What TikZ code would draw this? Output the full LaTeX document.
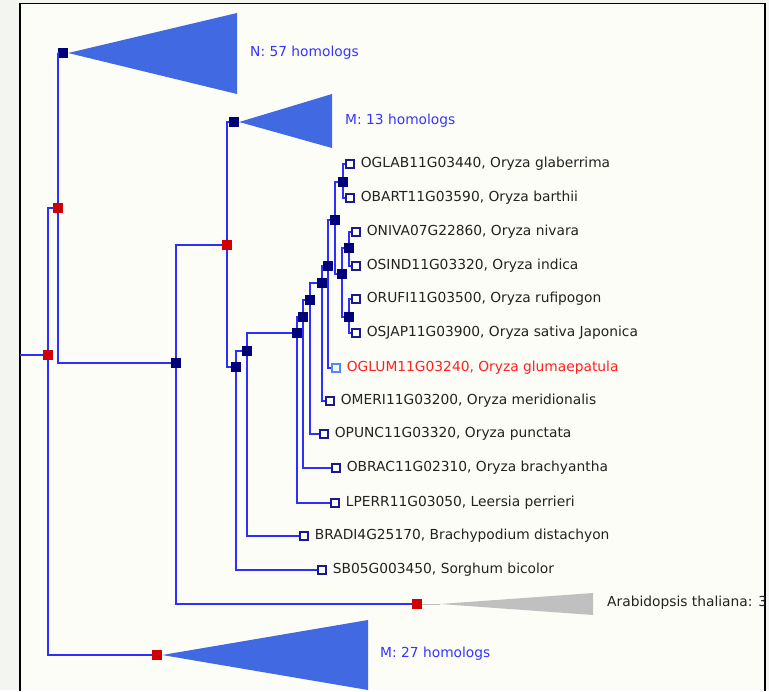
\documentclass[tikz,border=0pt]{standalone}
\usepackage{fontspec}
\setmainfont{DejaVu Sans}
\definecolor{outbg}{HTML}{F3F5F0}
\definecolor{inbg}{HTML}{FDFDF8}
\definecolor{navyc}{HTML}{000078}
\definecolor{redc}{HTML}{D00000}
\definecolor{linec}{HTML}{2E2EFF}
\definecolor{trib}{HTML}{4169E1}
\definecolor{trig}{HTML}{C0C0C0}
\definecolor{labb}{HTML}{3535FF}
\definecolor{textc}{HTML}{222222}
\definecolor{leafc}{HTML}{1A1A8C}
\definecolor{hilite}{HTML}{4A8CFF}
\definecolor{redtext}{HTML}{FF2020}
\begin{document}
\begin{tikzpicture}[x=1pt,y=-1pt,
  spec/.style={rectangle, fill=navyc, minimum size=10pt, inner sep=0pt},
  dupl/.style={rectangle, fill=redc, minimum size=10pt, inner sep=0pt},
  leafbox/.style={rectangle, draw=leafc, line width=1.3pt, fill=inbg, minimum size=8pt, inner sep=0pt},
  edge/.style={draw=linec, line width=1.6pt},
  lab/.style={anchor=west, font=\fontsize{13.8}{16}\selectfont, text=textc, inner sep=0pt, xshift=6pt},
  grplab/.style={anchor=west, font=\fontsize{13.8}{16}\selectfont, text=labb, inner sep=0pt}]
% background and frame
\fill[outbg] (0,0) rectangle (769,690);
\fill[inbg] (20,3.5) rectangle (765,690);
\draw[black, line width=1.6pt] (20,691) -- (20,3.5) -- (765,3.5) -- (765,691);
\useasboundingbox (0,0) rectangle (769,690);

% internal nodes
\node[dupl] (R0) at (48,355) {};
\node[dupl] (A) at (58,208) {};
\node[dupl] (B) at (157,655) {};
\node[spec] (N) at (63,53) {};
\node[spec] (C) at (176,363) {};
\node[dupl] (D) at (227,245) {};
\node[dupl] (AR) at (417,604) {};
\node[spec] (M13) at (234,122) {};
\node[spec] (E) at (236,367) {};
\node[spec] (F) at (247,351) {};
\node[spec] (G) at (297,333) {};
\node[spec] (P9) at (303,317) {};
\node[spec] (P8) at (310,300) {};
\node[spec] (P7) at (322,283) {};
\node[spec] (P6) at (328,266) {};
\node[spec] (P5) at (335,220) {};
\node[spec] (P1) at (343,182) {};
\node[spec] (P4) at (342,274) {};
\node[spec] (P2) at (349,248) {};
\node[spec] (P3) at (349,317) {};

% leaves
\node[leafbox] (SB) at (322,570) {};
\node[leafbox] (BRADI) at (304,536) {};
\node[leafbox] (LPERR) at (335,503) {};
\node[leafbox] (OBRAC) at (336,468) {};
\node[leafbox] (OPUNC) at (324,434) {};
\node[leafbox] (OMERI) at (330,401) {};
\node[leafbox, draw=hilite] (OGLUM) at (336,368) {};
\node[leafbox] (OGLAB) at (350,164) {};
\node[leafbox] (OBART) at (350,198) {};
\node[leafbox] (ONIVA) at (356,232) {};
\node[leafbox] (OSIND) at (356,266) {};
\node[leafbox] (ORUFI) at (356,299) {};
\node[leafbox] (OSJAP) at (356,333) {};

% edges
\coordinate (in) at (20,355);
\path[edge] (in) -- (R0);
\path[edge] (R0) |- (A);
\path[edge] (R0) |- (B);
\path[edge] (A) |- (N);
\path[edge] (A) |- (C);
\path[edge] (C) |- (D);
\path[edge] (C) |- (AR);
\path[edge] (D) |- (M13);
\path[edge] (D) |- (E);
\path[edge] (E) |- (F);
\path[edge] (E) |- (SB);
\path[edge] (F) |- (G);
\path[edge] (F) |- (BRADI);
\path[edge] (G) |- (P9);
\path[edge] (G) |- (LPERR);
\path[edge] (P9) |- (P8);
\path[edge] (P9) |- (OBRAC);
\path[edge] (P8) |- (P7);
\path[edge] (P8) |- (OPUNC);
\path[edge] (P7) |- (P6);
\path[edge] (P7) |- (OMERI);
\path[edge] (P6) |- (P5);
\path[edge] (P6) |- (OGLUM);
\path[edge] (P5) |- (P1);
\path[edge] (P5) |- (P4);
\path[edge] (P1) |- (OGLAB);
\path[edge] (P1) |- (OBART);
\path[edge] (P4) |- (P2);
\path[edge] (P4) |- (P3);
\path[edge] (P2) |- (ONIVA);
\path[edge] (P2) |- (OSIND);
\path[edge] (P3) |- (ORUFI);
\path[edge] (P3) |- (OSJAP);

% collapsed subtrees
\fill[trib] (N.east) -- (237,13) -- (237,94) -- cycle;
\fill[trib] (M13.east) -- (332,94) -- (332,148) -- cycle;
\fill[trib] (B.east) -- (368,620) -- (368,690) -- cycle;
\draw[trig, line width=1pt] (AR.east) -- (440,604);
\fill[trig] (440,604) -- (593,593) -- (593,615) -- cycle;

\node[grplab] (lN) at (250,53) {N: 57 homologs};
\node[grplab] (lM13) at (345,121) {M: 13 homologs};
\node[grplab] (lM27) at (380,654) {M: 27 homologs};
\begin{scope}
\clip (20,560) rectangle (764,640);
\node[anchor=west, font=\fontsize{13.8}{16}\selectfont, text=textc, inner sep=0pt] (lAR) at (607,603) {Arabidopsis thaliana: 3 homologs};
\end{scope}

% leaf labels
\node[lab] at (OGLAB.east) {OGLAB11G03440, Oryza glaberrima};
\node[lab] at (OBART.east) {OBART11G03590, Oryza barthii};
\node[lab] at (ONIVA.east) {ONIVA07G22860, Oryza nivara};
\node[lab] at (OSIND.east) {OSIND11G03320, Oryza indica};
\node[lab] at (ORUFI.east) {ORUFI11G03500, Oryza rufipogon};
\node[lab] at (OSJAP.east) {OSJAP11G03900, Oryza sativa Japonica};
\node[lab, text=redtext] at (OGLUM.east) {OGLUM11G03240, Oryza glumaepatula};
\node[lab] at (OMERI.east) {OMERI11G03200, Oryza meridionalis};
\node[lab] at (OPUNC.east) {OPUNC11G03320, Oryza punctata};
\node[lab] at (OBRAC.east) {OBRAC11G02310, Oryza brachyantha};
\node[lab] at (LPERR.east) {LPERR11G03050, Leersia perrieri};
\node[lab] at (BRADI.east) {BRADI4G25170, Brachypodium distachyon};
\node[lab] at (SB.east) {SB05G003450, Sorghum bicolor};
\end{tikzpicture}
\end{document}
